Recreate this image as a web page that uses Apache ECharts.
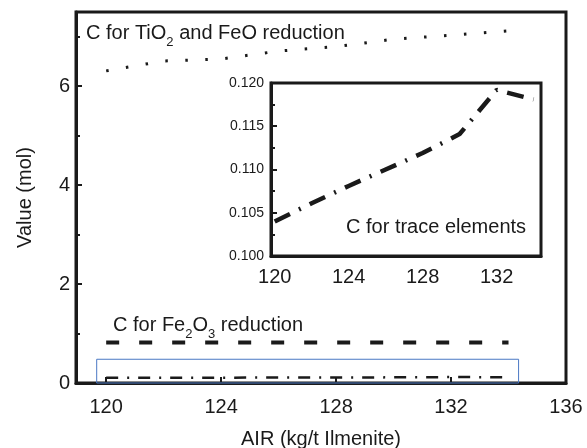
<html lang="en">
<head>
  <meta charset="UTF-8">
  <title>Carbon vs AIR</title>
  <style>
    body { margin: 0; background: #fff; }
    #chart { width: 587px; height: 448px; }
  </style>
</head>
<body>
  <div id="chart"></div>
  <script src="https://cdn.jsdelivr.net/npm/echarts@6/dist/echarts.min.js"></script>
  <script>
    // AIR values (kg/t Ilmenite)
    var air = [120, 122, 124, 126, 128, 130, 132, 134]
    // carbon for TiO2 + FeO reduction (mol)
    var cTiO2 = [6.31, 6.51, 6.55, 6.71, 6.80, 6.95, 7.03, 7.12]
    // carbon for Fe2O3 reduction (mol)
    var cFe2O3 = [0.82, 0.82, 0.82, 0.82, 0.82, 0.82, 0.82, 0.82]
    // carbon for trace elements (mol)
    var cTrace = [0.1040, 0.1061, 0.1081, 0.1100, 0.1119, 0.1141, 0.1192, 0.1181]

    var xTicks = [120, 124, 128, 132, 136]
    var yTicks = [0, 2, 4, 6]
    var yMinorTicks = [1, 3, 5, 7]
    var insetXTicks = [120, 124, 128, 132]
    // blue zoom box drawn round the trace line
    var boxX = [119.67, 134.35]
    var boxY = [0, 0.48]

    var font = '"Liberation Sans", Arial, sans-serif'
    var ink = '#1a1a1a'

    function pts(ys) {
      return air.map(function (x, i) { return [x, ys[i]] })
    }

    var chart = echarts.init(document.getElementById('chart'))
    var option = {
      animation: false,
      textStyle: { fontFamily: font, color: ink },
      grid: [
        { left: 76, top: 12, right: 21, bottom: 65, outerBoundsMode: 'none', show: true, borderColor: ink, borderWidth: 3, backgroundColor: 'transparent' },
        { left: 271, top: 83, right: 46, bottom: 192, outerBoundsMode: 'none', show: true, borderColor: ink, borderWidth: 3, backgroundColor: '#fff' }
      ],
      xAxis: [
        {
          gridIndex: 0, type: 'value', min: 118.95, max: 136,
          name: 'AIR (kg/t Ilmenite)', nameLocation: 'middle', nameGap: 46,
          nameTextStyle: { fontSize: 20, color: ink, fontFamily: font },
          axisLine: { lineStyle: { color: ink, width: 3 } },
          axisTick: { inside: true, length: 6, customValues: xTicks.slice(0, 4), lineStyle: { color: ink, width: 2 } },
          axisLabel: { customValues: xTicks, fontSize: 20, color: ink, margin: 14, fontFamily: font },
          splitLine: { show: false }
        },
        {
          gridIndex: 1, type: 'value', min: 119.8, max: 134.4,
          axisLine: { lineStyle: { color: ink, width: 3 } },
          axisTick: { show: false },
          axisLabel: { customValues: insetXTicks, fontSize: 20, color: ink, margin: 11, fontFamily: font },
          splitLine: { show: false }
        }
      ],
      yAxis: [
        {
          gridIndex: 0, type: 'value', min: 0, max: 7.5, position: 'left',
          name: 'Value (mol)', nameLocation: 'middle', nameGap: 41,
          nameTextStyle: { fontSize: 20, color: ink, fontFamily: font },
          axisLine: { lineStyle: { color: ink, width: 3 } },
          axisTick: { inside: true, length: 6, customValues: yTicks, lineStyle: { color: ink, width: 2 } },
          axisLabel: { customValues: yTicks, fontSize: 20, color: ink, margin: 6, fontFamily: font },
          splitLine: { show: false }
        },
        {
          gridIndex: 0, type: 'value', min: 0, max: 7.5, position: 'left', offset: 0,
          axisLine: { show: false },
          axisTick: { inside: true, length: 4, customValues: yMinorTicks, lineStyle: { color: ink, width: 2 } },
          axisLabel: { show: false },
          splitLine: { show: false }
        },
        {
          gridIndex: 1, type: 'value', min: 0.1, max: 0.12, interval: 0.005,
          axisLine: { lineStyle: { color: ink, width: 3 } },
          axisTick: { inside: true, length: 6, lineStyle: { color: ink, width: 2 } },
          minorTick: { show: true, splitNumber: 2, length: 4, lineStyle: { color: ink, width: 2 } },
          axisLabel: { fontSize: 14, color: ink, margin: 7, fontFamily: font, formatter: function (v) { return v.toFixed(3) } },
          splitLine: { show: false }
        }
      ],
      series: [
        {
          name: 'TiO2 + FeO', type: 'line', xAxisIndex: 0, yAxisIndex: 0,
          data: pts(cTiO2), showSymbol: false,
          lineStyle: { color: ink, width: 3, type: [2.5, 17.5], cap: 'butt' }
        },
        {
          name: 'Fe2O3', type: 'line', xAxisIndex: 0, yAxisIndex: 0,
          data: pts(cFe2O3), showSymbol: false,
          lineStyle: { color: ink, width: 4, type: [13, 20], cap: 'butt' }
        },
        {
          name: 'Trace', type: 'line', xAxisIndex: 0, yAxisIndex: 0,
          data: pts(cTrace), showSymbol: false,
          lineStyle: { color: ink, width: 2.5, type: [12, 9, 2, 9], cap: 'butt' },
          markArea: {
            silent: true,
            itemStyle: { color: 'rgba(0,0,0,0)', borderColor: '#4a78c4', borderWidth: 1 },
            data: [[{ coord: [boxX[0], boxY[0]] }, { coord: [boxX[1], boxY[1]] }]]
          }
        },
        {
          name: 'Trace inset', type: 'line', xAxisIndex: 1, yAxisIndex: 2,
          data: pts(cTrace), showSymbol: false,
          lineStyle: { color: ink, width: 4.5, type: [17, 10, 2, 10], cap: 'butt' }
        }
      ],
      graphic: [
        {
          type: 'text', left: 86, top: 23, z: 10,
          style: {
            text: '{a|C for TiO}{s|2}{a| and FeO reduction}',
            rich: {
              a: { fontSize: 20, fontFamily: font, fill: ink, lineHeight: 26, verticalAlign: 'bottom' },
              s: { fontSize: 13, fontFamily: font, fill: ink, lineHeight: 26, verticalAlign: 'bottom', padding: [0, 0, -6, 0] }
            }
          }
        },
        {
          type: 'text', left: 113, top: 315, z: 10,
          style: {
            text: '{a|C for Fe}{s|2}{a|O}{s|3}{a| reduction}',
            rich: {
              a: { fontSize: 20, fontFamily: font, fill: ink, lineHeight: 26, verticalAlign: 'bottom' },
              s: { fontSize: 13, fontFamily: font, fill: ink, lineHeight: 26, verticalAlign: 'bottom', padding: [0, 0, -6, 0] }
            }
          }
        },
        {
          type: 'text', left: 346, top: 217, z: 10,
          style: { text: 'C for trace elements', fontSize: 20, fontFamily: font, fill: ink }
        }
      ]
    }
    chart.setOption(option)
  </script>
</body>
</html>
